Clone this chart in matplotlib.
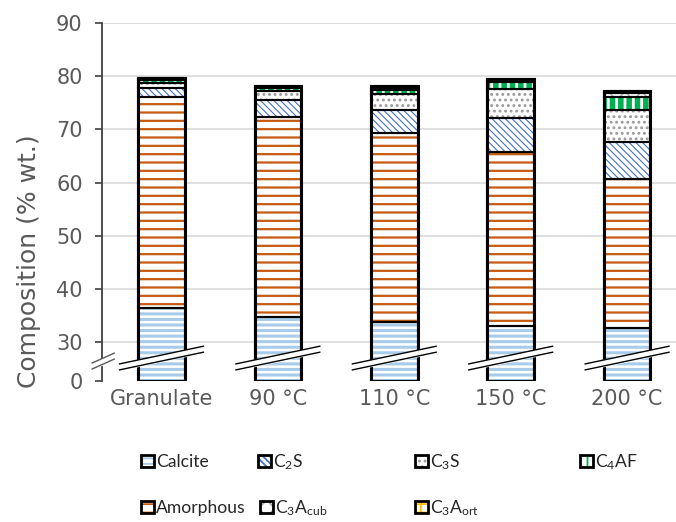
import numpy as np
import matplotlib
matplotlib.use('Agg')
import matplotlib.pyplot as plt
from matplotlib.patches import Patch

plt.rcParams['mathtext.default'] = 'regular'
plt.rcParams['hatch.linewidth'] = 1.3

# Data (% wt.)
categories = ['Granulate', '90 °C', '110 °C', '150 °C', '200 °C']
calcite = [36.4, 34.8, 33.7, 33.1, 32.6]
amorphous = [39.7, 37.6, 35.6, 32.7, 28.1]
c2s = [1.6, 3.1, 4.4, 6.4, 7.0]
c3s = [1.0, 1.8, 3.0, 5.3, 6.0]
c4af = [0.6, 0.5, 0.7, 1.4, 2.4]
c3a_cub = [0.2, 0.2, 0.4, 0.4, 0.8]
c3a_ort = [0.1, 0.1, 0.3, 0.2, 0.3]

labels = ['Calcite', 'Amorphous', 'C$_2$S', 'C$_3$S', 'C$_4$AF',
          'C$_3$A$_{cub}$', 'C$_3$A$_{ort}$']
layers = [calcite, amorphous, c2s, c3s, c4af, c3a_cub, c3a_ort]
# (hatch colour, hatch, hatch linewidth)
styles = [('#A9CBEA', '---', 2.2),
          ('#C55A11', '--', 1.6),
          ('#4472C4', '\\\\\\\\\\', 0.8),
          ('#9A9A9A', '...', 1.3),
          ('#00B050', '||', 4.0),
          ('#A6A6A6', 'xx', 0.8),
          ('#FFC000', '++', 1.2)]

# broken axis: 0-30 squeezed
k = 7.33 / 30


def fwd(y):
    y = np.asarray(y, float)
    return np.where(y >= 30, y, 30 - (30 - y) * k)


def inv(y):
    y = np.asarray(y, float)
    return np.where(y >= 30, y, 30 - (30 - y) / k)


fig = plt.figure(figsize=(6.76, 5.22), dpi=100)
ax = fig.add_axes([0.151, 0.270, 0.849, 0.686])
ax.set_yscale('function', functions=(fwd, inv))
ax.set_ylim(0, 90)
ax.set_xlim(-0.51, 4.42)

x = np.arange(len(categories))
width = 0.40
bottom = np.zeros(len(categories))
handles = []
for vals, (col, hatch, hlw), lab in zip(layers, styles, labels):
    bars = ax.bar(x, vals, width, bottom=bottom, color='white', edgecolor=col,
                  hatch=hatch, linewidth=0, zorder=2)
    for p in bars:
        if hasattr(p, 'set_hatch_linewidth'):
            p.set_hatch_linewidth(hlw)
    ax.bar(x, vals, width, bottom=bottom, fill=False, edgecolor='black',
           linewidth=1.5, zorder=3)
    bottom += np.array(vals)
    h1 = Patch(facecolor='white', edgecolor=col, hatch=hatch, linewidth=0)
    if hasattr(h1, 'set_hatch_linewidth'):
        h1.set_hatch_linewidth(min(hlw, 2.0))
    h2 = Patch(fill=False, edgecolor='black', linewidth=2.0)
    handles.append(((h1, h2), lab))

# outer outline of each bar
ax.bar(x, bottom, width, fill=False, edgecolor='black', linewidth=2.2, zorder=3)

# break marks on the bars
c, dx, dy, gap = 17.7, 0.36, 6.8, 2.3
for xi in x:
    xs = np.array([xi - dx, xi + dx])
    lo = np.array([c - dy - gap, c + dy - gap])
    hi = np.array([c - dy + gap, c + dy + gap])
    ax.fill_between(xs, lo, hi, color='white', zorder=4, clip_on=False)
    ax.plot(xs, lo, color='black', lw=1.0, zorder=5, clip_on=False)
    ax.plot(xs, hi, color='black', lw=1.0, zorder=5, clip_on=False)

# break mark on the y axis
xs = np.array([-0.51 - 0.085, -0.51 + 0.105])
lo = np.array([15.4 - 3.8 - 2.3, 15.4 + 3.8 - 2.3])
hi = np.array([15.4 - 3.8 + 2.3, 15.4 + 3.8 + 2.3])
ax.fill_between(xs, lo, hi, color='white', zorder=6, clip_on=False)
ax.plot(xs, lo, color='#595959', lw=1.0, zorder=7, clip_on=False)
ax.plot(xs, hi, color='#595959', lw=1.0, zorder=7, clip_on=False)

# axes styling
ax.set_yticks([0, 30, 40, 50, 60, 70, 80, 90])
ax.set_xticks(x)
ax.set_xticklabels(categories)
ax.yaxis.grid(True, color='#D9D9D9', lw=1.2, zorder=0)
ax.set_axisbelow(True)
for s in ['top', 'right', 'bottom']:
    ax.spines[s].set_visible(False)
ax.spines['left'].set_color('#404040')
ax.spines['left'].set_linewidth(1.3)
ax.tick_params(axis='y', length=5, width=1.2, color='#404040',
               labelcolor='#595959', labelsize=15, pad=9)
ax.tick_params(axis='x', length=0, labelcolor='#595959', labelsize=15, pad=6)
fig.canvas.draw()
ax.get_ygridlines()[0].set_visible(False)

ax.set_ylabel('Composition (% wt.)', color='#595959', fontsize=18)
ax.yaxis.set_label_coords(-0.107, 0.335)

# legend, placed entry by entry
pos = {'Calcite': (141, 462), 'C$_2$S': (258, 462), 'C$_3$S': (415, 462),
       'C$_4$AF': (580, 462), 'Amorphous': (141, 508),
       'C$_3$A$_{cub}$': (260, 508), 'C$_3$A$_{ort}$': (415, 508)}
for h, lab in handles:
    px, py = pos[lab]
    fig.legend([h], [lab], loc='center left',
               bbox_to_anchor=(px / 676, 1 - py / 522), frameon=False,
               borderpad=0, borderaxespad=0, handlelength=0.72,
               handleheight=0.72, handletextpad=0.15,
               prop={'family': 'Lato', 'size': 12.6}, labelcolor='#262626')

fig.savefig('out.png', dpi=100)
